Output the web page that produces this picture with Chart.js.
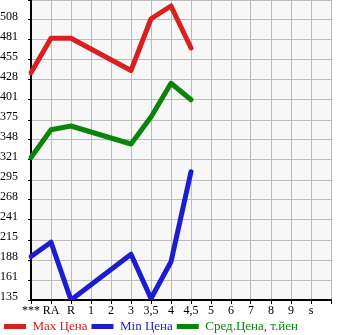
<!DOCTYPE html>
<html>
<head>
<meta charset="utf-8">
<script src="https://cdn.jsdelivr.net/npm/chart.js@4"></script>
<style>
  body { margin: 0; background: #fff; }
</style>
</head>
<body>
<canvas id="chart" width="345" height="335"></canvas>
<script>
// categories (last one is empty, just closes the grid)
const categories = ["***", "RA", "R", "1", "2", "3", "3,5", "4", "4,5", "5", "6", "7", "8", "9", "s", ""];
const yTickLabels = ["135", "161", "188", "215", "241", "268", "295", "321", "348", "375", "401", "428", "455", "481", "508", ""];

// values (null = no data)
const maxPrice = [438, 484, 484, null, null, 441, 510, 527, 471];
const minPrice = [193, 212, 135, null, null, 196, 137, 186, 306];
const avgPrice = [325, 362, 367, null, null, 343, 379, 424, 402];

const seriesNames = ["Max Цена", "Min Цена", "Сред.Цена, т.йен"];
const colors = ["#d82020", "#1c1cd0", "#0a840a"];

// фон области графика
const plotBg = {
  id: "plotBg",
  beforeDraw(chart) {
    const { ctx, chartArea } = chart;
    ctx.save();
    ctx.fillStyle = "#f7f7f7";
    ctx.fillRect(chartArea.left, chartArea.top, chartArea.right - chartArea.left, chartArea.bottom - chartArea.top);
    ctx.restore();
  },
};

function ds(label, data, color) {
  return {
    label: label,
    data: data,
    borderColor: color,
    backgroundColor: color,
    borderWidth: 5,
    pointRadius: 0,
    borderCapStyle: "round",
    borderJoinStyle: "round",
    spanGaps: true,
    tension: 0,
  };
}

new Chart(document.getElementById("chart"), {
  type: "line",
  data: {
    labels: categories,
    datasets: [
      ds(seriesNames[0], maxPrice, colors[0]),
      ds(seriesNames[1], minPrice, colors[1]),
      ds(seriesNames[2], avgPrice, colors[2]),
    ],
  },
  options: {
    responsive: false,
    animation: false,
    layout: { padding: { left: 0, right: 14, top: 0, bottom: -8 } },
    scales: {
      x: {
        offset: false,
        grid: { color: "#bbbbbb", tickColor: "#000", tickLength: 4 },
        border: { color: "#000", width: 2 },
        ticks: {
          color: "#000",
          font: { family: "Liberation Serif", size: 12 },
          padding: 0,
          maxRotation: 0,
          autoSkip: false,
        },
        afterFit(scale) { scale.height = 16; },
      },
      y: {
        min: 135,
        max: 535,
        grid: { color: "#bbbbbb", tickColor: "#000", tickLength: 3 },
        border: { color: "#000", width: 2 },
        ticks: {
          count: 16,
          color: "#000",
          font: { family: "Liberation Serif", size: 12 },
          padding: 2,
          labelOffset: -3,
          crossAlign: "far",
          callback: (v, i) => yTickLabels[i],
        },
        afterFit(scale) {
          scale.width = 31;
          scale.paddingTop = 0;
        },
      },
    },
    plugins: {
      legend: {
        position: "bottom",
        align: "start",
        labels: {
          boxWidth: 22,
          boxHeight: 5,
          padding: 4,
          font: { family: "Liberation Serif", size: 13 },
          generateLabels(chart) {
            return chart.data.datasets.map((d, i) => ({
              text: d.label,
              fillStyle: d.borderColor,
              strokeStyle: d.borderColor,
              fontColor: d.borderColor,
              lineWidth: 0,
              datasetIndex: i,
            }));
          },
        },
      },
      tooltip: { enabled: false },
    },
  },
  plugins: [plotBg],
});
</script>
</body>
</html>
